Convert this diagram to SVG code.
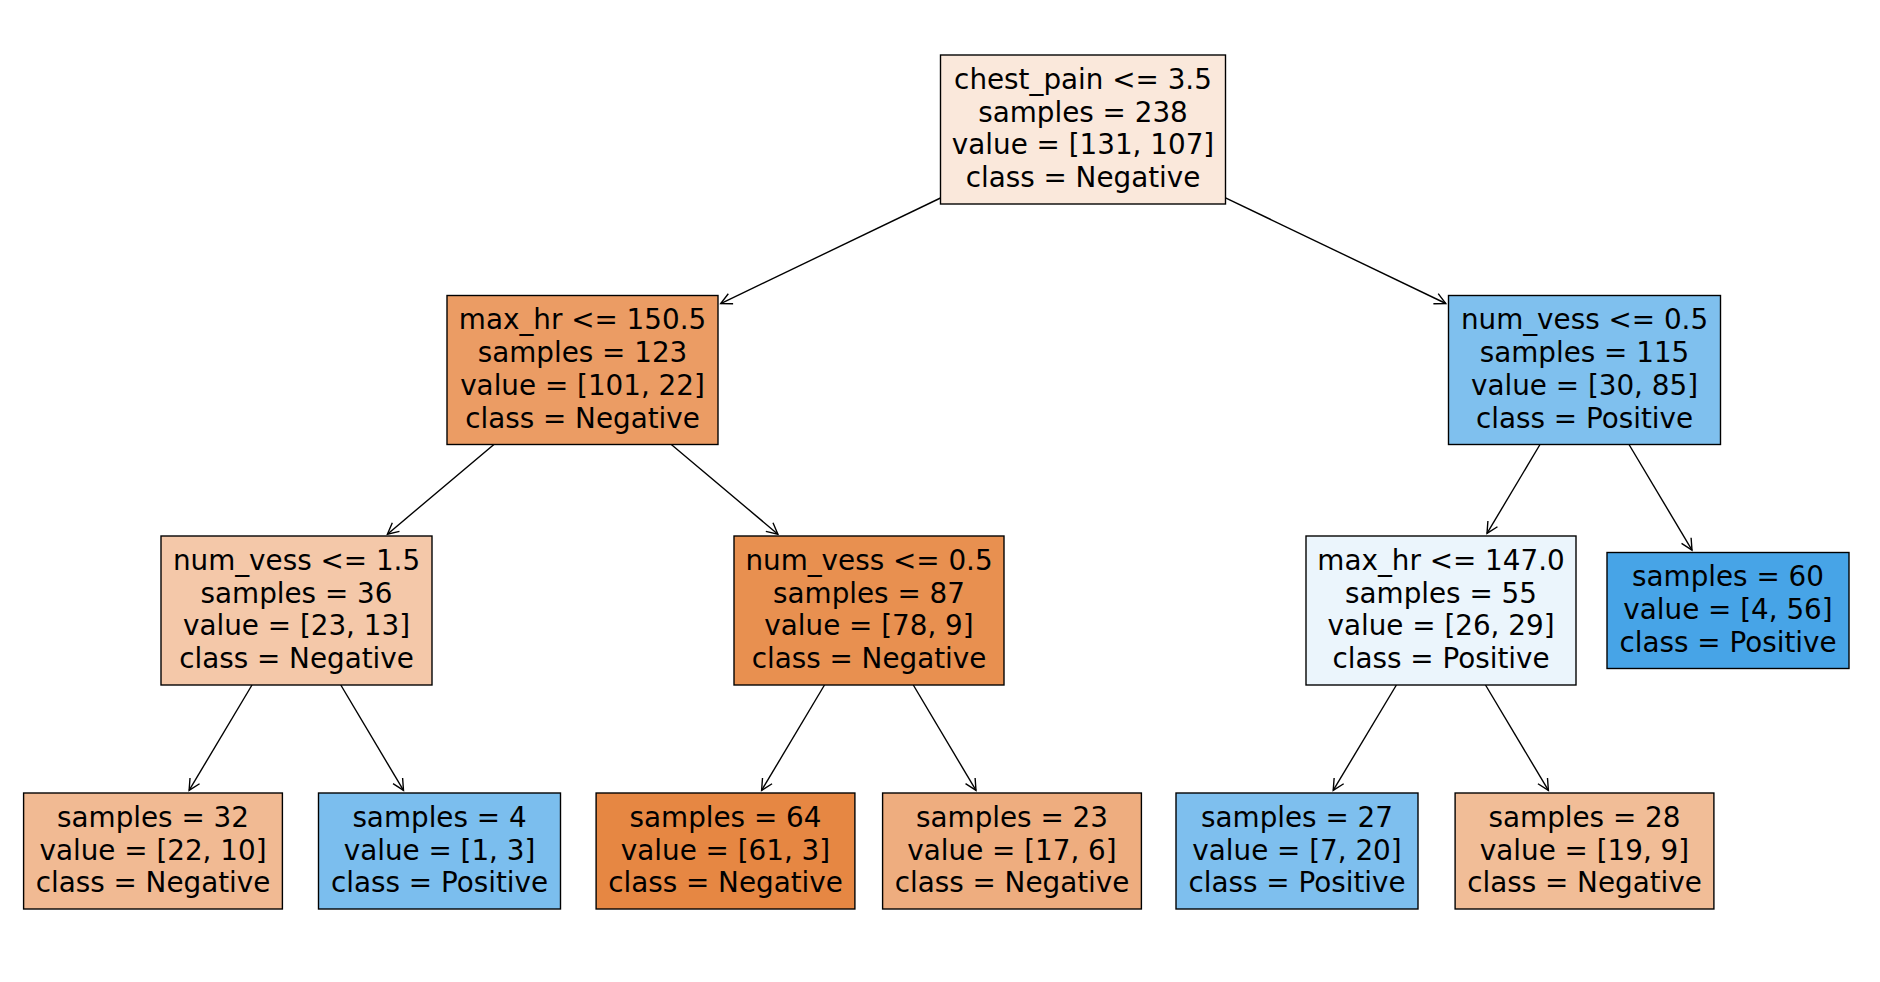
<svg xmlns="http://www.w3.org/2000/svg" width="1880" height="982" viewBox="0 0 1880 982">
<style>
.box{stroke:#000;stroke-width:1.39}
.t{font-family:"DejaVu Sans","Liberation Sans",sans-serif;font-size:27.8px;fill:#000;text-anchor:middle}
.e{stroke:#000;stroke-width:1.39;fill:none;marker-end:url(#ah)}
</style>
<defs>
<marker id="ah" markerUnits="userSpaceOnUse" viewBox="-14 -8 16 16" markerWidth="16" markerHeight="16" refX="0" refY="0" orient="auto" overflow="visible">
<path d="M-11.1,-5.56 L0,0 L-11.1,5.56" fill="none" stroke="#000" stroke-width="1.39"/>
</marker>
</defs>
<rect width="1880" height="982" fill="#fff"/>
<g id="connectors">
<line class="e" x1="940.5" y1="198" x2="720.7" y2="303.6"/>
<line class="e" x1="1225.5" y1="197.8" x2="1445.8" y2="303.5"/>
<line class="e" x1="493.9" y1="444.5" x2="387.4" y2="534.2"/>
<line class="e" x1="671.3" y1="444.5" x2="777.9" y2="534.2"/>
<line class="e" x1="1540" y1="444.5" x2="1487" y2="533.4"/>
<line class="e" x1="1629" y1="444.5" x2="1692" y2="550.1"/>
<line class="e" x1="252" y1="685" x2="189.1" y2="790.4"/>
<line class="e" x1="340.8" y1="685" x2="403.5" y2="790.4"/>
<line class="e" x1="824.5" y1="685" x2="761.6" y2="790.4"/>
<line class="e" x1="913.3" y1="685" x2="976" y2="790.4"/>
<line class="e" x1="1396.4" y1="685" x2="1333.2" y2="790.4"/>
<line class="e" x1="1485.5" y1="685" x2="1548.4" y2="790.4"/>
</g>
<g id="n0">
<rect class="box" x="940.5" y="55" width="285" height="149" fill="#fae8db"/>
<text class="t" x="1083" y="88.8">chest_pain &lt;= 3.5</text>
<text class="t" x="1083" y="121.6">samples = 238</text>
<text class="t" x="1083" y="154.4">value = [131, 107]</text>
<text class="t" x="1083" y="187.2">class = Negative</text>
</g>
<g id="n1">
<rect class="box" x="447" y="295.5" width="271" height="149" fill="#eb9c64"/>
<text class="t" x="582.5" y="329.3">max_hr &lt;= 150.5</text>
<text class="t" x="582.5" y="362.1">samples = 123</text>
<text class="t" x="582.5" y="394.9">value = [101, 22]</text>
<text class="t" x="582.5" y="427.7">class = Negative</text>
</g>
<g id="n2">
<rect class="box" x="1448.5" y="295.5" width="272" height="149" fill="#7fc0ee"/>
<text class="t" x="1584.5" y="329.3">num_vess &lt;= 0.5</text>
<text class="t" x="1584.5" y="362.1">samples = 115</text>
<text class="t" x="1584.5" y="394.9">value = [30, 85]</text>
<text class="t" x="1584.5" y="427.7">class = Positive</text>
</g>
<g id="n3">
<rect class="box" x="161" y="536" width="271" height="149" fill="#f4c8a9"/>
<text class="t" x="296.5" y="569.8">num_vess &lt;= 1.5</text>
<text class="t" x="296.5" y="602.6">samples = 36</text>
<text class="t" x="296.5" y="635.4">value = [23, 13]</text>
<text class="t" x="296.5" y="668.2">class = Negative</text>
</g>
<g id="n4">
<rect class="box" x="734" y="536" width="270" height="149" fill="#e89050"/>
<text class="t" x="869" y="569.8">num_vess &lt;= 0.5</text>
<text class="t" x="869" y="602.6">samples = 87</text>
<text class="t" x="869" y="635.4">value = [78, 9]</text>
<text class="t" x="869" y="668.2">class = Negative</text>
</g>
<g id="n5">
<rect class="box" x="1306" y="536" width="270" height="149" fill="#ebf5fc"/>
<text class="t" x="1441" y="569.8">max_hr &lt;= 147.0</text>
<text class="t" x="1441" y="602.6">samples = 55</text>
<text class="t" x="1441" y="635.4">value = [26, 29]</text>
<text class="t" x="1441" y="668.2">class = Positive</text>
</g>
<g id="n6">
<rect class="box" x="1607" y="552.5" width="242" height="116" fill="#47a4e7"/>
<text class="t" x="1728" y="586.3">samples = 60</text>
<text class="t" x="1728" y="619.1">value = [4, 56]</text>
<text class="t" x="1728" y="651.9">class = Positive</text>
</g>
<g id="n7">
<rect class="box" x="23.6" y="793" width="258.8" height="116" fill="#f1ba93"/>
<text class="t" x="153" y="826.8">samples = 32</text>
<text class="t" x="153" y="859.6">value = [22, 10]</text>
<text class="t" x="153" y="892.4">class = Negative</text>
</g>
<g id="n8">
<rect class="box" x="318.5" y="793" width="242" height="116" fill="#7bbeee"/>
<text class="t" x="439.5" y="826.8">samples = 4</text>
<text class="t" x="439.5" y="859.6">value = [1, 3]</text>
<text class="t" x="439.5" y="892.4">class = Positive</text>
</g>
<g id="n9">
<rect class="box" x="596.1" y="793" width="258.8" height="116" fill="#e68743"/>
<text class="t" x="725.5" y="826.8">samples = 64</text>
<text class="t" x="725.5" y="859.6">value = [61, 3]</text>
<text class="t" x="725.5" y="892.4">class = Negative</text>
</g>
<g id="n10">
<rect class="box" x="882.6" y="793" width="258.8" height="116" fill="#eead7f"/>
<text class="t" x="1012" y="826.8">samples = 23</text>
<text class="t" x="1012" y="859.6">value = [17, 6]</text>
<text class="t" x="1012" y="892.4">class = Negative</text>
</g>
<g id="n11">
<rect class="box" x="1176" y="793" width="242" height="116" fill="#7ebfee"/>
<text class="t" x="1297" y="826.8">samples = 27</text>
<text class="t" x="1297" y="859.6">value = [7, 20]</text>
<text class="t" x="1297" y="892.4">class = Positive</text>
</g>
<g id="n12">
<rect class="box" x="1455.1" y="793" width="258.8" height="116" fill="#f1bd97"/>
<text class="t" x="1584.5" y="826.8">samples = 28</text>
<text class="t" x="1584.5" y="859.6">value = [19, 9]</text>
<text class="t" x="1584.5" y="892.4">class = Negative</text>
</g>
</svg>
